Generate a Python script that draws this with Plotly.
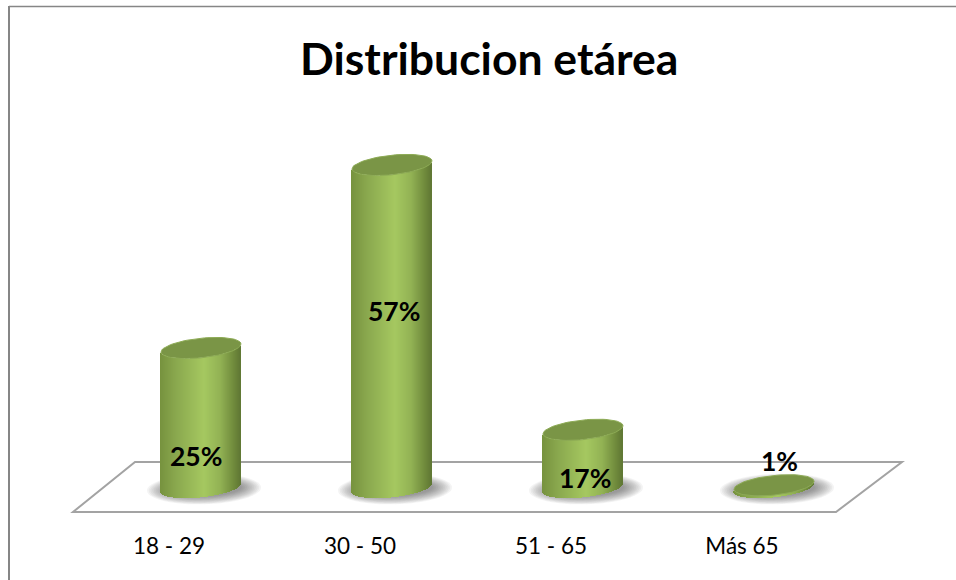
import math
import plotly.graph_objects as go

categories = ["18 - 29", "30 - 50", "51 - 65", "Más 65"]
heights = [25, 57, 10.7, 1]
labels = ["25%", "57%", "17%", "1%"]
title = "Distribucion etárea"

# layout constants (pixels of the 956x580 page)
W, H = 956, 580
PLOT_BOTTOM = 526
PX_X0, PX_DX = 201.0, 191.0      # pixel of first category, px per category
PX_Y0, PX_DY = 491.0, 5.72       # pixel of value 0, px per unit
TICK_SHIFT = -32.0               # tick labels sit at the front edge of the floor
label_px = [(196, 456), (394, 311), (585, 478), (779, 461)]
floor_px = [(73, 512), (836, 512), (902, 462), (135, 462)]
FONT = "Lato, Carlito, sans-serif"


def X(px):
    return (px - PX_X0) / PX_DX


def Y(py):
    return (PX_Y0 - py) / PX_DY


def PY(py):
    """page pixel row -> paper fraction (paper spans the plot area only)"""
    return 1 - py / PLOT_BOTTOM


x_range = [X(0), X(W)]
y_range = [Y(PLOT_BOTTOM), Y(0)]

HALF_W = 40.0      # cylinder half width, px
TILT = 4.0         # rise of ellipse between centre and right side, px
SEMI = 9.8         # vertical semi axis, px
BASE = 0.6         # value level of the cylinder base centre


def lerp(a, b, t):
    return tuple(a[i] + (b[i] - a[i]) * t for i in range(3))


def side_color(u):
    """u in 0..1 across the cylinder"""
    stops = [(0.0, (118, 146, 62)), (0.2, (138, 168, 78)), (0.55, (165, 200, 96)),
             (0.75, (146, 178, 84)), (0.92, (112, 139, 60)), (1.0, (96, 120, 52))]
    for (a, ca), (b, cb) in zip(stops, stops[1:]):
        if u <= b:
            c = lerp(ca, cb, (u - a) / (b - a))
            break
    return "rgb(%d,%d,%d)" % tuple(round(v) for v in c)


def ellipse(cx_cat, level, a=HALF_W, b=SEMI, tilt=TILT, n=72, dx=0.0):
    xs, ys = [], []
    for k in range(n + 1):
        t = 2 * math.pi * k / n
        xs.append(cx_cat + (dx + a * math.cos(t)) / PX_DX)
        ys.append(level + (tilt * math.cos(t) + b * math.sin(t)) / PX_DY)
    return xs, ys


def path(xs, ys):
    return "M " + " L ".join(f"{x:.5f},{y:.5f}" for x, y in zip(xs, ys)) + " Z"


shapes = []

# floor (below all traces)
shapes.append(dict(
    type="path", xref="x", yref="y", layer="below",
    path=path([X(p[0]) for p in floor_px], [Y(p[1]) for p in floor_px]),
    fillcolor="white", line=dict(color="#a3a3a3", width=2)))

# soft shadows behind each base
for i in range(len(categories)):
    for s in range(12):
        f = 1 - s / 12
        xs, ys = ellipse(i, BASE - 0.25, a=HALF_W - 4 + 21 * f, b=SEMI - 3 + 8.5 * f, tilt=1.5, dx=3)
        shapes.append(dict(
            type="path", xref="x", yref="y", layer="below", path=path(xs, ys),
            fillcolor="rgba(70,70,70,0.06)", line=dict(width=0)))

# chart frame: only its top and left edges are on the page
shapes.append(dict(type="line", xref="paper", yref="paper", x0=9 / W, x1=1, y0=PY(6.5), y1=PY(6.5),
                   line=dict(color="#868686", width=1.5), layer="below"))
shapes.append(dict(type="line", xref="paper", yref="paper", x0=9 / W, x1=9 / W, y0=PY(H), y1=PY(6),
                   line=dict(color="#868686", width=2), layer="below"))

fig = go.Figure()

# cylinder side: one narrow strip per pixel column
STRIPS = 80
for k in range(STRIPS):
    u = (k + 0.5) / STRIPS
    offs = -HALF_W + 2 * HALF_W * u
    c = max(-1.0, min(1.0, offs / HALF_W))
    base_val = BASE + (TILT * c - SEMI * math.sqrt(1 - c * c)) / PX_DY
    fig.add_trace(go.Bar(
        x=list(range(len(categories))),
        y=[h - BASE for h in heights],
        base=[base_val] * len(categories),
        width=[1.25 * 2 * HALF_W / STRIPS / PX_DX] * len(categories),
        offset=[(offs - HALF_W / STRIPS * 1.25) / PX_DX] * len(categories),
        marker=dict(color=side_color(u), line=dict(width=0)),
        hoverinfo="skip", showlegend=False))

# cylinder top cap
for i, h in enumerate(heights):
    xs, ys = ellipse(i, h)
    fig.add_trace(go.Scatter(
        x=xs, y=ys, mode="lines", fill="toself", fillcolor="#7a9546",
        line=dict(color="#8dab55", width=1), hoverinfo="skip", showlegend=False))

annotations = [dict(
    x=X(p[0]), y=Y(p[1]), xref="x", yref="y", text=labels[i], showarrow=False,
    font=dict(family=FONT, size=26.5, color="black", weight="bold"),
) for i, p in enumerate(label_px)]

annotations.append(dict(
    x=489 / W, y=PY(58), xref="paper", yref="paper", yanchor="middle", xanchor="center",
    text=title, showarrow=False,
    font=dict(family=FONT, size=44.5, color="black", weight="bold")))

fig.update_layout(
    width=W, height=H, barmode="overlay", bargap=0,
    margin=dict(l=0, r=0, t=0, b=H - PLOT_BOTTOM, pad=0),
    paper_bgcolor="white", plot_bgcolor="white", showlegend=False,
    annotations=annotations,
    shapes=shapes,
    xaxis=dict(range=x_range, tickmode="array",
               tickvals=[i + TICK_SHIFT / PX_DX for i in range(len(categories))],
               ticktext=categories, showgrid=False, zeroline=False, showline=False,
               ticks="", ticklabelstandoff=4,
               tickfont=dict(family=FONT, size=22.5, color="black")),
    yaxis=dict(range=y_range, visible=False, showgrid=False, zeroline=False),
)
fig.write_html("out.html", config=dict(displayModeBar=False),
               post_script="document.body.style.margin='0';document.documentElement.style.overflow='hidden';")
